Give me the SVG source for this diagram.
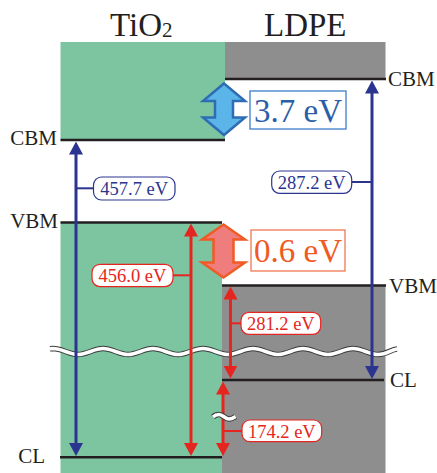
<svg xmlns="http://www.w3.org/2000/svg" width="437" height="473" viewBox="0 0 437 473">
  <style>
    .lvl { stroke: #231f20; stroke-width: 2.5; fill: none; }
    .green { fill: #7cc5a0; }
    .gray { fill: #8e8e8e; }
    .title { font-family: "Liberation Serif", "Times New Roman", serif; font-size: 33px; fill: #231f20; }
    .lab { font-family: "Liberation Serif", "Times New Roman", serif; font-size: 21px; fill: #231f20; }
    .val { font-family: "Liberation Serif", "Times New Roman", serif; font-size: 18.5px; text-anchor: middle; }
    .big { font-family: "Liberation Serif", "Times New Roman", serif; font-size: 33px; text-anchor: middle; }
    .blue { stroke: #2b3590; stroke-width: 3; fill: none; }
    .red { stroke: #e52620; stroke-width: 3; fill: none; }
    .btick { stroke: #2b3590; stroke-width: 2; }
    .rtick { stroke: #e52620; stroke-width: 2; }
    .bbox { fill: #ffffff; stroke: #2b3590; stroke-width: 1.2; }
    .rbox { fill: #ffffff; stroke: #e52620; stroke-width: 1.2; }
    .btxt { fill: #2b3590; }
    .rtxt { fill: #e52620; }
    .waveo { fill: none; stroke: #3a3a3a; stroke-width: 5.5; }
    .wavei { fill: none; stroke: #ffffff; stroke-width: 3.5; }
  </style>
  <defs>
    <marker id="hb" viewBox="0 0 13 14" refX="8" refY="7" markerWidth="13" markerHeight="14" markerUnits="userSpaceOnUse" orient="auto-start-reverse">
      <path d="M0,0 L13,7 L0,14 z" fill="#2b3590"/>
    </marker>
    <marker id="hr" viewBox="0 0 13 14" refX="8" refY="7" markerWidth="13" markerHeight="14" markerUnits="userSpaceOnUse" orient="auto-start-reverse">
      <path d="M0,0 L13,7 L0,14 z" fill="#e52620"/>
    </marker>
  </defs>

  <g id="tio2">
    <rect class="green" x="60.5" y="42" width="164.5" height="98"/>
    <rect class="green" x="60.5" y="222.5" width="161.5" height="250.5"/>
    <text class="title" x="110" y="36">TiO<tspan font-size="21" dy="1">2</tspan></text>
  </g>
  <g id="ldpe">
    <rect class="gray" x="225" y="42" width="160.5" height="37"/>
    <rect class="gray" x="222" y="285.5" width="163.5" height="187.5"/>
    <text class="title" x="264" y="36">LDPE</text>
  </g>

  <g id="levels">
    <line class="lvl" x1="60.5" y1="140" x2="225" y2="140"/>
    <line class="lvl" x1="60.5" y1="222.5" x2="222" y2="222.5"/>
    <line class="lvl" x1="60" y1="457.3" x2="222" y2="457.3"/>
    <line class="lvl" x1="225" y1="79" x2="386" y2="79"/>
    <line class="lvl" x1="222" y1="285.5" x2="386" y2="285.5"/>
    <line class="lvl" x1="222" y1="380" x2="384" y2="380"/>
    <text class="lab" x="57" y="144.5" text-anchor="end">CBM</text>
    <text class="lab" x="58" y="228" text-anchor="end">VBM</text>
    <text class="lab" x="45" y="462.5" text-anchor="end">CL</text>
    <text class="lab" x="388" y="86">CBM</text>
    <text class="lab" x="389" y="293">VBM</text>
    <text class="lab" x="390" y="386.5">CL</text>
  </g>

  <g id="break">
    <path class="waveo" d="M50,348.7 L53,348.5 C62,348.5 69,354.5 78,354.5 S94,348.5 103,348.5 S119,354.5 128,354.5 S144,348.5 153,348.5 S169,354.5 178,354.5 S194,348.5 203,348.5 S219,354.5 228,354.5 S244,348.5 253,348.5 S269,354.5 278,354.5 S294,348.5 303,348.5 S319,354.5 328,354.5 S344,348.5 353,348.5 S369,354.5 378,354.5 S391,349.5 397,349"/>
    <path class="wavei" d="M50,348.7 L53,348.5 C62,348.5 69,354.5 78,354.5 S94,348.5 103,348.5 S119,354.5 128,354.5 S144,348.5 153,348.5 S169,354.5 178,354.5 S194,348.5 203,348.5 S219,354.5 228,354.5 S244,348.5 253,348.5 S269,354.5 278,354.5 S294,348.5 303,348.5 S319,354.5 328,354.5 S344,348.5 353,348.5 S369,354.5 378,354.5 S391,349.5 397,349"/>
  </g>

  <g id="connectors">
    <line class="blue" x1="76" y1="146.5" x2="76" y2="451" marker-start="url(#hb)" marker-end="url(#hb)"/>
    <line class="blue" x1="372" y1="85.5" x2="372" y2="374" marker-start="url(#hb)" marker-end="url(#hb)"/>
    <line class="red" x1="191" y1="228.5" x2="191" y2="451" marker-start="url(#hr)" marker-end="url(#hr)"/>
    <line class="red" x1="230.5" y1="291.5" x2="230.5" y2="373.5" marker-start="url(#hr)" marker-end="url(#hr)"/>
    <line class="red" x1="223" y1="386.5" x2="223" y2="451" marker-start="url(#hr)" marker-end="url(#hr)"/>
    <line class="btick" x1="76" y1="188.3" x2="93.5" y2="188.3"/>
    <line class="btick" x1="351.5" y1="182" x2="372" y2="182"/>
    <line class="rtick" x1="172.5" y1="275.3" x2="191" y2="275.3"/>
    <line class="rtick" x1="230.5" y1="323.3" x2="241" y2="323.3"/>
    <line class="rtick" x1="223" y1="431" x2="242" y2="431"/>
    <path class="waveo" stroke-width="5" d="M213,417 C215,415 217,414.5 219,414.5 C223,414.5 225,419 229,419 C232,419 234,417.5 235.5,416.5"/>
    <path class="wavei" stroke-width="3" d="M213,417 C215,415 217,414.5 219,414.5 C223,414.5 225,419 229,419 C232,419 234,417.5 235.5,416.5"/>
  </g>

  <g id="offset-cbm">
    <path d="M224,83.5 L245,101 L233,101 L233,117.5 L245,117.5 L224,135 L203,117.5 L215,117.5 L215,101 L203,101 Z" fill="#5bb5e8" stroke="#2e6db4" stroke-width="2.5" stroke-linejoin="miter"/>
    <rect x="250" y="91" width="96" height="38" fill="#ffffff" stroke="#3d7cc9" stroke-width="1.3"/>
    <text class="big" x="298" y="121.5" fill="#2c5ea8">3.7 eV</text>
  </g>
  <g id="offset-vbm">
    <path d="M223.5,224.5 L245,239.5 L233.5,239.5 L233.5,262.5 L245,262.5 L223.5,277.5 L202,262.5 L213.5,262.5 L213.5,239.5 L202,239.5 Z" fill="#ef7d7d" stroke="#f05a24" stroke-width="2.5" stroke-linejoin="miter"/>
    <rect x="251" y="230" width="94" height="41" fill="#ffffff" stroke="#f07850" stroke-width="1.3"/>
    <text class="big" x="298" y="262" fill="#f05a22">0.6 eV</text>
  </g>

  <g id="label-457">
    <rect class="bbox" x="93.5" y="177" width="81.5" height="23" rx="8"/>
    <text class="val btxt" x="134.2" y="195">457.7 eV</text>
  </g>
  <g id="label-287">
    <rect class="bbox" x="271.7" y="171" width="80" height="22.3" rx="8"/>
    <text class="val btxt" x="311.7" y="189">287.2 eV</text>
  </g>
  <g id="label-456">
    <rect class="rbox" x="92" y="264.3" width="81" height="22.3" rx="8"/>
    <text class="val rtxt" x="132.5" y="282">456.0 eV</text>
  </g>
  <g id="label-281">
    <rect class="rbox" x="241" y="312.3" width="79.7" height="22" rx="8"/>
    <text class="val rtxt" x="280.8" y="330">281.2 eV</text>
  </g>
  <g id="label-174">
    <rect class="rbox" x="242" y="420" width="79.7" height="21.7" rx="8"/>
    <text class="val rtxt" x="281.8" y="437.5">174.2 eV</text>
  </g>
</svg>
